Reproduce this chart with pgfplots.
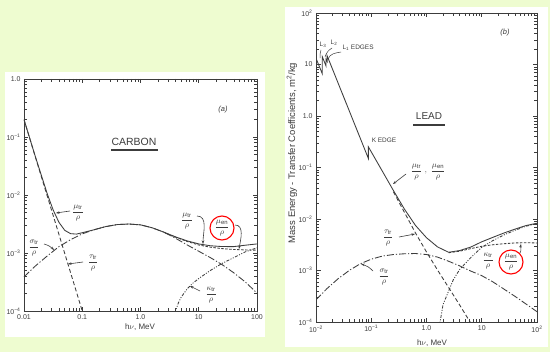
\documentclass[border=0pt]{standalone}
\usepackage{pgfplots}
\pgfplotsset{compat=1.18}
\usepackage{fontspec}
\setmainfont{Liberation Sans}
\usetikzlibrary{arrows.meta}
\definecolor{bg}{RGB}{238,252,208}
\definecolor{ink}{RGB}{60,60,60}
\pgfplotsset{every axis/.append style={anchor=south west, scale only axis,
    axis line style={ink, line width=0.8bp}, tick style={ink, line width=0.6bp},
    major tick length=4.5bp, minor tick length=2.8bp, tick align=inside, tick pos=both,
    ticklabel style={font=\fontsize{7}{7}\selectfont, text=ink}},
  every axis plot/.append style={ink, line width=0.85bp, no markers}}
\tikzset{tot/.style={solid},
  pho/.style={dash pattern=on 4bp off 2.5bp},
  com/.style={dash pattern=on 7bp off 2bp on 1.2bp off 2bp},
  par/.style={dash pattern=on 3bp off 1.5bp on 1bp off 1.5bp on 1bp off 1.5bp},
  men/.style={dash pattern=on 2.5bp off 1.5bp},
  fl/.style={font=\fontsize{8.5}{9}\selectfont, text=ink, inner sep=0pt},
  ar/.style={ink, line width=0.6bp, -{Stealth[length=3.5bp,width=2.5bp]}}}
\newcommand{\mt}{$\displaystyle\frac{\mu_{\mathrm{tr}}}{\rho}$}
\newcommand{\me}{$\displaystyle\frac{\mu_{\mathrm{en}}}{\rho}$}
\begin{document}
\begin{tikzpicture}[x=1bp,y=1bp]
\fill[bg] (0,0) rectangle (550,352);
\fill[white] (5,15) rectangle (265,280);
\fill[white] (285,5) rectangle (548,345);
\useasboundingbox (0,0) rectangle (550,352);

% ---------------- CARBON ----------------
\begin{loglogaxis}[at={(24bp,41bp)}, width=233bp, height=232bp,
  xmin=0.01, xmax=100, ymin=1e-4, ymax=1,
  xtick={0.01,0.1,1,10,100}, xticklabels={0.01,0.1,1.0,10,100},
  ytick={1e-4,1e-3,1e-2,1e-1,1},
  yticklabels={10\textsuperscript{−4},10\textsuperscript{−3},10\textsuperscript{−2},10\textsuperscript{−1},1.0},
  minor xtick={0.02,0.03,0.04,0.05,0.06,0.07,0.08,0.09,0.2,0.3,0.4,0.5,0.6,0.7,0.8,0.9,2,3,4,5,6,7,8,9,20,30,40,50,60,70,80,90},
  minor ytick={2e-4,3e-4,4e-4,5e-4,6e-4,7e-4,8e-4,9e-4,2e-3,3e-3,4e-3,5e-3,6e-3,7e-3,8e-3,9e-3,0.02,0.03,0.04,0.05,0.06,0.07,0.08,0.09,0.2,0.3,0.4,0.5,0.6,0.7,0.8,0.9}]
\addplot[tot] coordinates {(0.01,0.1999) (0.01585,0.04425) (0.02512,0.01044) (0.03162,0.00554) (0.03981,0.003377) (0.05012,0.002456) (0.0631,0.002155) (0.07943,0.002119) (0.1,0.002238) (0.1585,0.002512) (0.2512,0.002851) (0.3981,0.003090) (0.631,0.003162) (1,0.003055) (1.585,0.002723) (2.512,0.002291) (3.981,0.001900) (6.31,0.001620) (10,0.001435) (15.85,0.001333) (25.12,0.001292) (39.81,0.001289) (63.1,0.001363) (100,0.001434)};
\addplot[pho] coordinates {(0.01,0.1995) (0.1,1e-4)};
\addplot[com] coordinates {(0.01,3.89e-4) (0.01585,6.03e-4) (0.02512,8.91e-4) (0.03981,1.288e-3) (0.0631,1.698e-3) (0.1,2.138e-3) (0.1585,2.512e-3) (0.2512,2.851e-3) (0.3981,3.090e-3) (0.631,3.162e-3) (1,3.055e-3) (1.585,2.723e-3) (2.512,2.291e-3) (3.981,1.799e-3) (6.31,1.380e-3) (10,1.072e-3) (15.85,8.32e-4) (25.12,6.31e-4) (39.81,4.57e-4) (63.1,3.16e-4) (100,2.04e-4)};
\addplot[par] coordinates {(3.548,6.31e-5) (3.981,1.0e-4) (4.467,1.38e-4) (5.012,1.74e-4) (6.31,2.40e-4) (7.943,3.02e-4) (10,3.63e-4) (15.85,5.01e-4) (25.12,6.61e-4) (39.81,8.32e-4) (63.1,1.047e-3) (100,1.23e-3)};
\addplot[men] coordinates {(2.512,2.27e-3) (3.981,1.88e-3) (6.31,1.58e-3) (10,1.375e-3) (15.85,1.26e-3) (25.12,1.19e-3) (39.81,1.15e-3) (63.1,1.13e-3) (100,1.12e-3)};
\end{loglogaxis}

\node[font=\fontsize{10.5}{11}\selectfont, text=ink] at (134,210) {CARBON};
\draw[ink, line width=1.3bp] (111,202) -- (158,202);
\node[font=\fontsize{7.5}{8}\selectfont\itshape, text=ink] at (223,242) {(a)};
\node[fl] at (78,139) {\mt};
\draw[ar] (70,141) -- (56,139);
\node[fl] at (34,104) {$\displaystyle\frac{\sigma_{\mathrm{tr}}}{\rho}$};
\draw[ar] (44,108) to[bend left=15] (54,102);
\node[fl] at (93,89) {$\displaystyle\frac{\tau_{\mathrm{tr}}}{\rho}$};
\draw[ar] (83,90) -- (68,88);
\node[fl] at (187,131) {\mt};
\draw[ar] (197,136) to[out=0,in=90] (203,108);
\node[fl] at (222,124) {\me};
\draw[red, line width=1.1bp] (222,124) circle (12);
\draw[ar] (235,127) to[out=0,in=80] (239,103);
\node[fl] at (211,57) {$\displaystyle\frac{\kappa_{\mathrm{tr}}}{\rho}$};
\draw[ar] (200,61) -- (190,66);
\node[font=\fontsize{8}{8}\selectfont, text=ink] at (140,25) {h$\nu$, MeV};

% ---------------- LEAD ----------------
\begin{loglogaxis}[at={(316bp,30bp)}, width=221bp, height=309bp,
  xmin=0.01, xmax=100, ymin=1e-4, ymax=100,
  xtick={0.01,0.1,1,10,100},
  xticklabels={10\textsuperscript{−2},10\textsuperscript{−1},1.0,10,10\textsuperscript{2}},
  ytick={1e-4,1e-3,1e-2,1e-1,1,10,100},
  yticklabels={10\textsuperscript{−4},10\textsuperscript{−3},10\textsuperscript{−2},10\textsuperscript{−1},1.0,10,10\textsuperscript{2}},
  minor xtick={0.02,0.03,0.04,0.05,0.06,0.07,0.08,0.09,0.2,0.3,0.4,0.5,0.6,0.7,0.8,0.9,2,3,4,5,6,7,8,9,20,30,40,50,60,70,80,90},
  minor ytick={2e-4,3e-4,4e-4,5e-4,6e-4,7e-4,8e-4,9e-4,2e-3,3e-3,4e-3,5e-3,6e-3,7e-3,8e-3,9e-3,0.02,0.03,0.04,0.05,0.06,0.07,0.08,0.09,0.2,0.3,0.4,0.5,0.6,0.7,0.8,0.9,2,3,4,5,6,7,8,9,20,30,40,50,60,70,80,90}]
\addplot[tot] coordinates {(0.01,13.18) (0.013,6.61) (0.013,14.13) (0.0152,9.33) (0.0152,12.59) (0.0159,11.48) (0.0159,14.79) (0.0885,0.1507) (0.0885,0.2529) (0.1585,0.0851) (0.2512,0.0359) (0.3981,0.0156) (0.631,0.00751) (1,0.00433) (1.585,0.00287) (2.512,0.00226) (3.981,0.00244) (6.31,0.00285) (10,0.00361) (15.85,0.00440) (25.12,0.00534) (39.81,0.00635) (63.1,0.00746) (100,0.00829)};
\addplot[pho] coordinates {(0.2512,0.0339) (0.3981,0.01349) (0.631,0.00537) (1,0.00229) (1.585,0.00102) (2.512,4.68e-4) (3.981,2.14e-4) (6.31,9.55e-5)};
\addplot[com] coordinates {(0.01,2.69e-4) (0.01585,4.47e-4) (0.02512,6.92e-4) (0.03981,1.0e-3) (0.0631,1.349e-3) (0.1,1.660e-3) (0.1585,1.905e-3) (0.2512,2.042e-3) (0.3981,2.113e-3) (0.631,2.138e-3) (1,2.042e-3) (1.585,1.820e-3) (2.512,1.514e-3) (3.981,1.230e-3) (6.31,9.77e-4) (10,7.94e-4) (15.85,6.03e-4) (25.12,4.37e-4) (39.81,3.16e-4) (63.1,2.24e-4) (100,1.585e-4)};
\addplot[par] coordinates {(1.698,7.94e-5) (1.995,2.19e-4) (2.512,3.98e-4) (3.055,6.61e-4) (3.981,1.047e-3) (6.31,1.778e-3) (10,2.818e-3) (15.85,3.80e-3) (25.12,4.90e-3) (39.81,6.03e-3) (63.1,7.24e-3) (100,8.13e-3)};
\addplot[men] coordinates {(2.512,2.213e-3) (3.981,2.371e-3) (6.31,2.661e-3) (10,2.951e-3) (15.85,3.162e-3) (25.12,3.311e-3) (39.81,3.428e-3) (63.1,3.467e-3) (100,3.428e-3)};
\end{loglogaxis}

\node[font=\fontsize{7.5}{8}\selectfont\itshape, text=ink] at (505,319) {(b)};
\node[font=\fontsize{10}{10}\selectfont, text=ink] at (429,236) {LEAD};
\draw[ink, line width=1.3bp] (413,227) -- (445,227);
\node[font=\fontsize{6.5}{7}\selectfont, text=ink] at (384,212) {K EDGE};
\node[font=\fontsize{6.5}{7}\selectfont, text=ink] at (323,307) {L\textsubscript{3}};
\node[font=\fontsize{6.5}{7}\selectfont, text=ink] at (334,309) {L\textsubscript{2}};
\node[font=\fontsize{6.5}{7}\selectfont, text=ink, anchor=west] at (339,304) {L\textsubscript{1} EDGES};
\draw[ink, line width=0.5bp] (321,302) to[bend right=10] (320,294);
\draw[ink, line width=0.5bp] (332,304) to[bend right=20] (325,295);
\draw[ink, line width=0.5bp] (341,300) to[out=190,in=70] (328,293);
\node[fl] at (428,180) {$\displaystyle\frac{\mu_{\mathrm{tr}}}{\rho}\;,\;\frac{\mu_{\mathrm{en}}}{\rho}$};
\draw[ar] (406,178) -- (393,168);
\node[fl] at (388,114) {$\displaystyle\frac{\tau_{\mathrm{tr}}}{\rho}$};
\draw[ar] (399,115) -- (415,118);
\node[fl] at (384,75) {$\displaystyle\frac{\sigma_{\mathrm{tr}}}{\rho}$};
\draw[ar] (373,81) to[bend right=15] (361,88);
\node[fl] at (488,91) {$\displaystyle\frac{\kappa_{\mathrm{tr}}}{\rho}$};
\node[fl] at (511,90) {\me};
\draw[red, line width=1.1bp] (511,90) circle (12);
\draw[ar] (520,99) to[out=60,in=-100] (521,108);
\node[rotate=90, font=\fontsize{9.5}{10}\selectfont, text=ink] at (292,199) {Mass Energy - Transfer Coefficients, m\textsuperscript{2}/kg};
\node[font=\fontsize{8}{8}\selectfont, text=ink] at (432,9) {h$\nu$, MeV};
\end{tikzpicture}
\end{document}
